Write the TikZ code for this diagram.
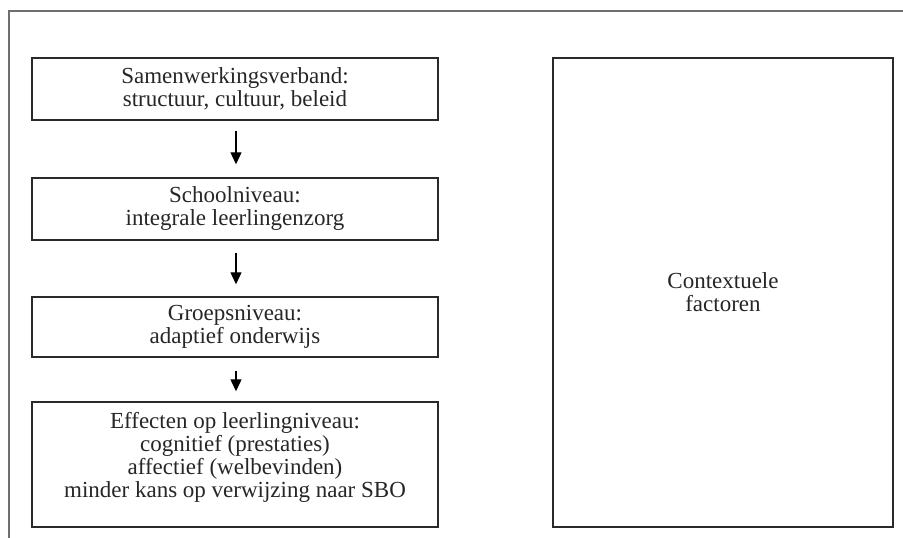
\documentclass[tikz,border=0pt]{standalone}
\usepackage{fontspec}
\setmainfont{Liberation Serif}
\usetikzlibrary{arrows.meta,calc}
\definecolor{framegray}{HTML}{6E6E6E}
\definecolor{boxline}{HTML}{2A2A2A}
\tikzset{
  txt/.style={align=center, inner sep=0pt,
    font=\fontsize{23pt}{23pt}\selectfont, text=black!85},
  box/.style={txt, draw=boxline, line width=1.4pt},
  arr/.style={draw=black, line width=1.2pt, -{Triangle[length=12pt,width=11pt]}},
  frame/.style={draw=framegray, line width=1.8pt}
}
\begin{document}
\begin{tikzpicture}[x=1pt,y=-1pt]
\useasboundingbox (0,0) rectangle (903,538);
\draw[frame] (9,538) -- (9,11) -- (903,11);
\node[box, minimum width=406pt, minimum height=62pt] (b1) at (235,89)
  {Samenwerkingsverband:\\structuur, cultuur, beleid};
\node[box, minimum width=406pt, minimum height=62pt] (b2) at (235,209)
  {Schoolniveau:\\integrale leerlingenzorg};
\node[box, minimum width=406pt, minimum height=60pt] (b3) at (235,327)
  {Groepsniveau:\\adaptief onderwijs};
\node[box, minimum width=406pt, minimum height=125pt] (b4) at (235,464.5) {};
\node[txt] (b4t) at ([yshift=7pt]b4.center)
  {Effecten op leerlingniveau:\\cognitief (prestaties)\\affectief (welbevinden)\\minder kans op verwijzing naar SBO};
\node[box, minimum width=340pt, minimum height=469pt] (ctx) at (723,292.5)
  {Contextuele\\factoren};
\coordinate (ax) at (236,0);
\draw[arr, shorten <=10pt, shorten >=13pt] (b1.south -| ax) -- (b2.north -| ax);
\draw[arr, shorten <=12pt, shorten >=12pt] (b2.south -| ax) -- (b3.north -| ax);
\draw[arr, shorten <=13pt, shorten >=10pt] (b3.south -| ax) -- (b4.north -| ax);
\end{tikzpicture}
\end{document}
